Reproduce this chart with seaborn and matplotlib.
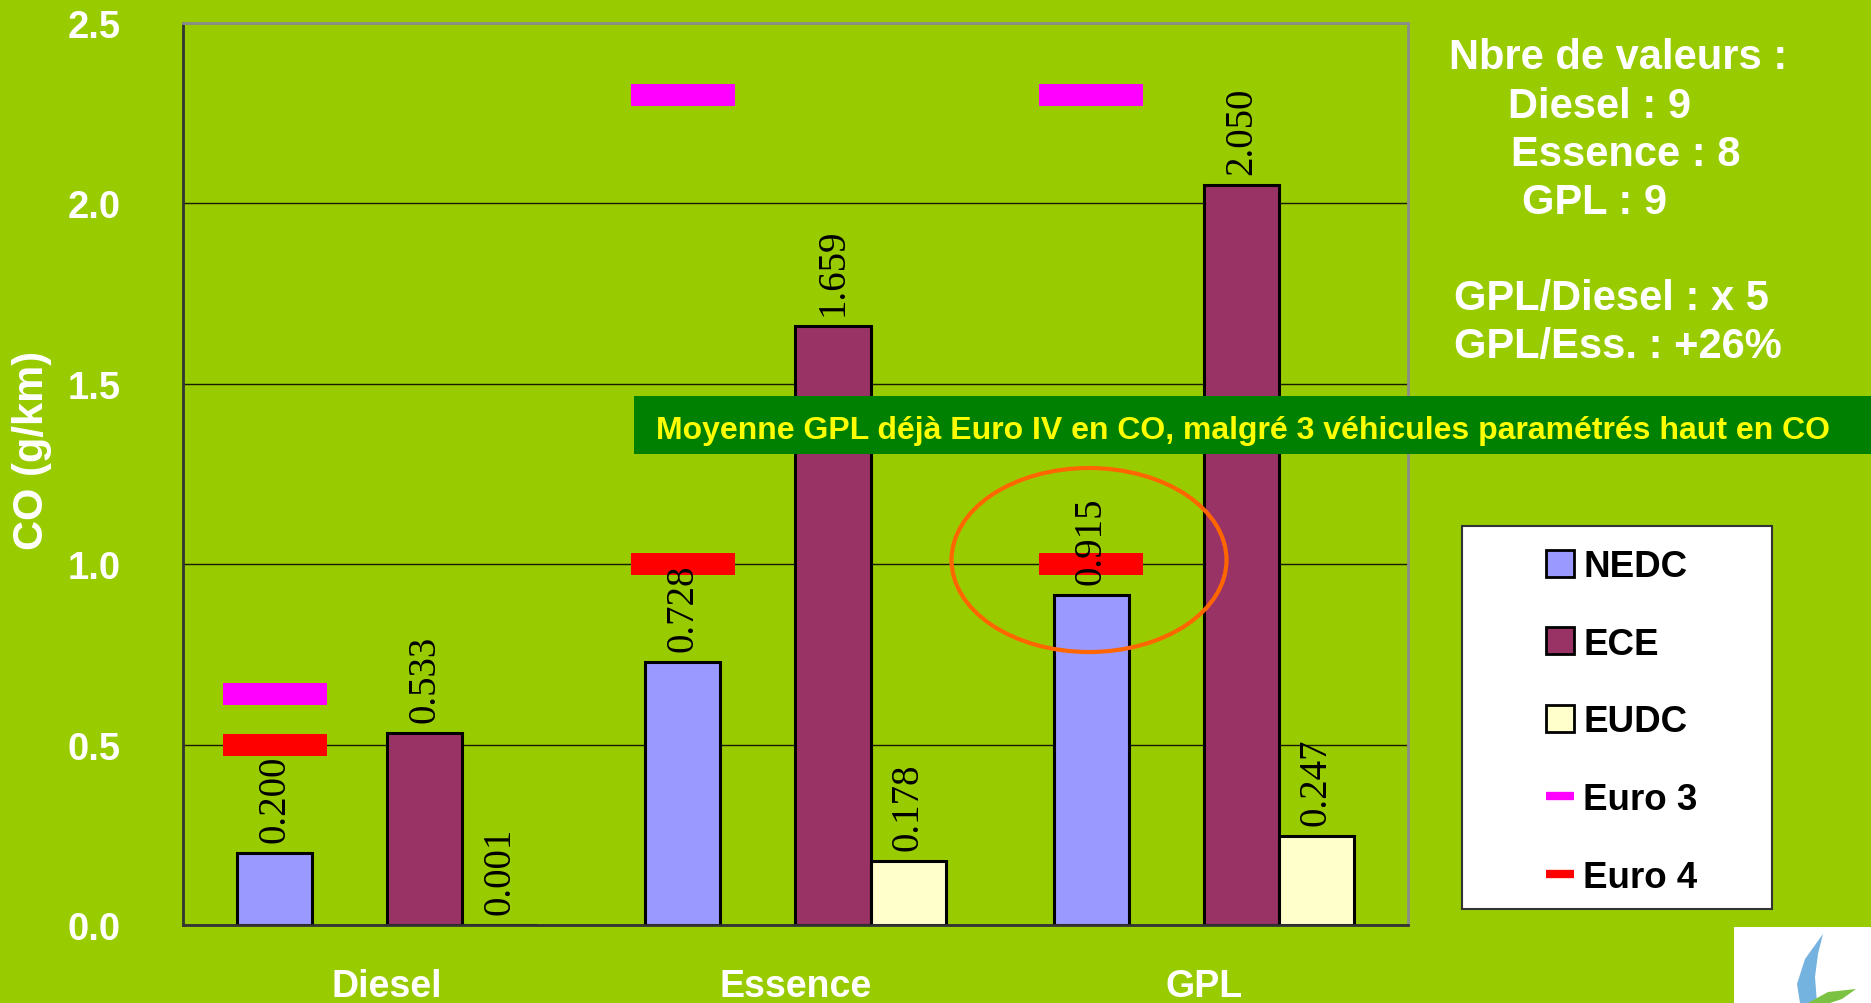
import pandas as pd
import matplotlib.pyplot as plt
import matplotlib.transforms as mtransforms
import seaborn as sns
from matplotlib.patches import Rectangle, Ellipse, Patch, Polygon
from matplotlib.lines import Line2D

# data
fuels = ["Diesel", "Essence", "GPL"]
cycles = ["NEDC", "ECE", "EUDC"]
nedc = [0.200, 0.728, 0.915]
ece = [0.533, 1.659, 2.050]
eudc = [0.001, 0.178, 0.247]
euro3 = [0.64, 2.3, 2.3]
euro4 = [0.5, 1.0, 1.0]
yticks = [0.0, 0.5, 1.0, 1.5, 2.0, 2.5]

bg = "#99CC00"
colors = {"NEDC": "#9999FF", " ": bg, "ECE": "#993366", "EUDC": "#FFFFCC"}

df = pd.DataFrame({
    "Carburant": fuels * 3,
    "Cycle": [c for c in cycles for _ in fuels],
    "CO": nedc + ece + eudc,
})

sns.set_theme(style="white")
plt.rcParams["font.family"] = ["Liberation Sans", "DejaVu Sans"]

W, H = 1871, 1004
fig = plt.figure(figsize=(W / 100, H / 100), dpi=100, facecolor=bg)
ax = fig.add_axes([183 / W, 1 - 926 / H, 1225 / W, 902 / H])
ax.set_facecolor(bg)


def fx(x):
    return x / W


def fy(y):
    return 1 - y / H


# empty hue slot between NEDC and ECE, as in the original
sns.barplot(data=df, x="Carburant", y="CO", hue="Cycle",
            hue_order=["NEDC", " ", "ECE", "EUDC"], palette=colors,
            saturation=1, width=0.735, edgecolor="black", linewidth=2.2,
            errorbar=None, legend=False, ax=ax, zorder=2)

for cont in ax.containers:
    ax.bar_label(cont, fmt="{:.3f}", rotation=90, padding=8, fontsize=28,
                 family="Liberation Serif", color="black", zorder=4)

# Euro limits sit over the NEDC bar of each group
first = ax.containers[0][0]
dx = first.get_x() + first.get_width() / 2
shift = mtransforms.Affine2D().translate(dx, 0) + ax.transData
rect = [(-1, -0.21), (1, -0.21), (1, 0.21), (-1, 0.21), (-1, -0.21)]
sns.scatterplot(x=fuels, y=euro3, marker=rect, s=5610, color="#FF00FF",
                linewidth=0, transform=shift, ax=ax, zorder=3)
sns.scatterplot(x=fuels, y=euro4, marker=rect, s=5610, color="#FF0000",
                linewidth=0, transform=shift, ax=ax, zorder=3)

ax.set_xlim(-0.5, len(fuels) - 0.5)
ax.set_ylim(0, 2.5)
ax.set_yticks(yticks)
ax.set_yticklabels([f"{v:.1f}" for v in yticks])
ax.yaxis.grid(True, color="#1a1a00", linewidth=1.0)
ax.set_axisbelow(True)

ax.set_xticks(range(len(fuels)))
ax.set_xticks([i - 0.5 for i in range(len(fuels) + 1)], minor=True)
ax.tick_params(axis="x", which="major", length=0, pad=31, labelsize=27,
               labelcolor="white")
ax.tick_params(axis="x", which="minor", length=8, width=1.5, color="#333333",
               direction="out")
ax.tick_params(axis="y", length=8.6, width=1.2, color="#222222", direction="out",
               pad=36, labelsize=27.5, labelcolor="white")
for lab in ax.get_xticklabels() + ax.get_yticklabels():
    lab.set_fontweight("bold")

ax.set_xlabel("")
ax.set_ylabel("CO (g/km)", fontsize=30, fontweight="bold", color="white")
ax.yaxis.set_label_coords(-0.107, 0.527)

for side in ["left", "bottom"]:
    ax.spines[side].set_color("#333333")
    ax.spines[side].set_linewidth(2)
for side in ["top", "right"]:
    ax.spines[side].set_color("#8c8c8c")
    ax.spines[side].set_linewidth(2)

# notes at the top right
notes = [("Nbre de valeurs :", 1449, 69), ("Diesel : 9", 1508, 118),
         ("Essence : 8", 1511, 166), ("GPL : 9", 1522, 214),
         ("GPL/Diesel : x 5", 1454, 310), ("GPL/Ess. : +26%", 1454, 358)]
for txt, x, y in notes:
    fig.text(fx(x), fy(y), txt, color="white", fontsize=30, fontweight="bold",
             va="baseline", ha="left")

# green banner
fig.add_artist(Rectangle((fx(634), fy(455)), fx(W - 634), 58 / H,
                         transform=fig.transFigure, facecolor="#008000",
                         edgecolor="none", zorder=5))
fig.text(fx(656), fy(439),
         "Moyenne GPL déjà Euro IV en CO, malgré 3 véhicules paramétrés haut en CO",
         color="#FFFF00", fontsize=23, fontweight="bold",
         va="baseline", ha="left", zorder=6)

# orange circle around the GPL NEDC value
fig.add_artist(Ellipse((fx(1089), fy(561)), 275 / W, 184 / H,
                       transform=fig.transFigure, fill=False,
                       edgecolor="#FF6600", linewidth=3, zorder=5))

# legend box
fig.add_artist(Rectangle((fx(1462), fy(910)), 310 / W, 383 / H,
                         transform=fig.transFigure, facecolor="white",
                         edgecolor="#333333", linewidth=1.5, zorder=5))
handles = [Patch(facecolor=colors[c], edgecolor="black", linewidth=2)
           for c in cycles]
handles += [Line2D([], [], color="#FF00FF", linewidth=6, solid_capstyle="butt"),
            Line2D([], [], color="#FF0000", linewidth=6, solid_capstyle="butt")]
leg = fig.legend(handles, cycles + ["Euro 3", "Euro 4"], loc="center",
                 bbox_to_anchor=(fx(1622), fy(723)), frameon=False,
                 prop={"family": "Liberation Sans", "weight": "bold", "size": 26.5},
                 labelcolor="black", handlelength=0.75, handleheight=0.75,
                 handletextpad=0.25, labelspacing=1.16, borderpad=0)
leg.set_zorder(6)

# logo corner
fig.add_artist(Rectangle((fx(1734), 0), fx(W - 1734), fy(928),
                         transform=fig.transFigure, facecolor="white",
                         edgecolor="none", zorder=5))
flame = [(1800, 1004), (1797, 985), (1805, 960), (1823, 935), (1818, 955),
         (1815, 978), (1817, 1004)]
leaf = [(1808, 1004), (1828, 993), (1856, 990), (1842, 1000), (1830, 1004)]
fig.add_artist(Polygon([(fx(x), fy(y)) for x, y in flame], closed=True,
                       transform=fig.transFigure, facecolor="#74B2E0",
                       edgecolor="none", zorder=6))
fig.add_artist(Polygon([(fx(x), fy(y)) for x, y in leaf], closed=True,
                       transform=fig.transFigure, facecolor="#7CC242",
                       edgecolor="none", zorder=6))

fig.savefig("out.png", dpi=100, facecolor=bg)
